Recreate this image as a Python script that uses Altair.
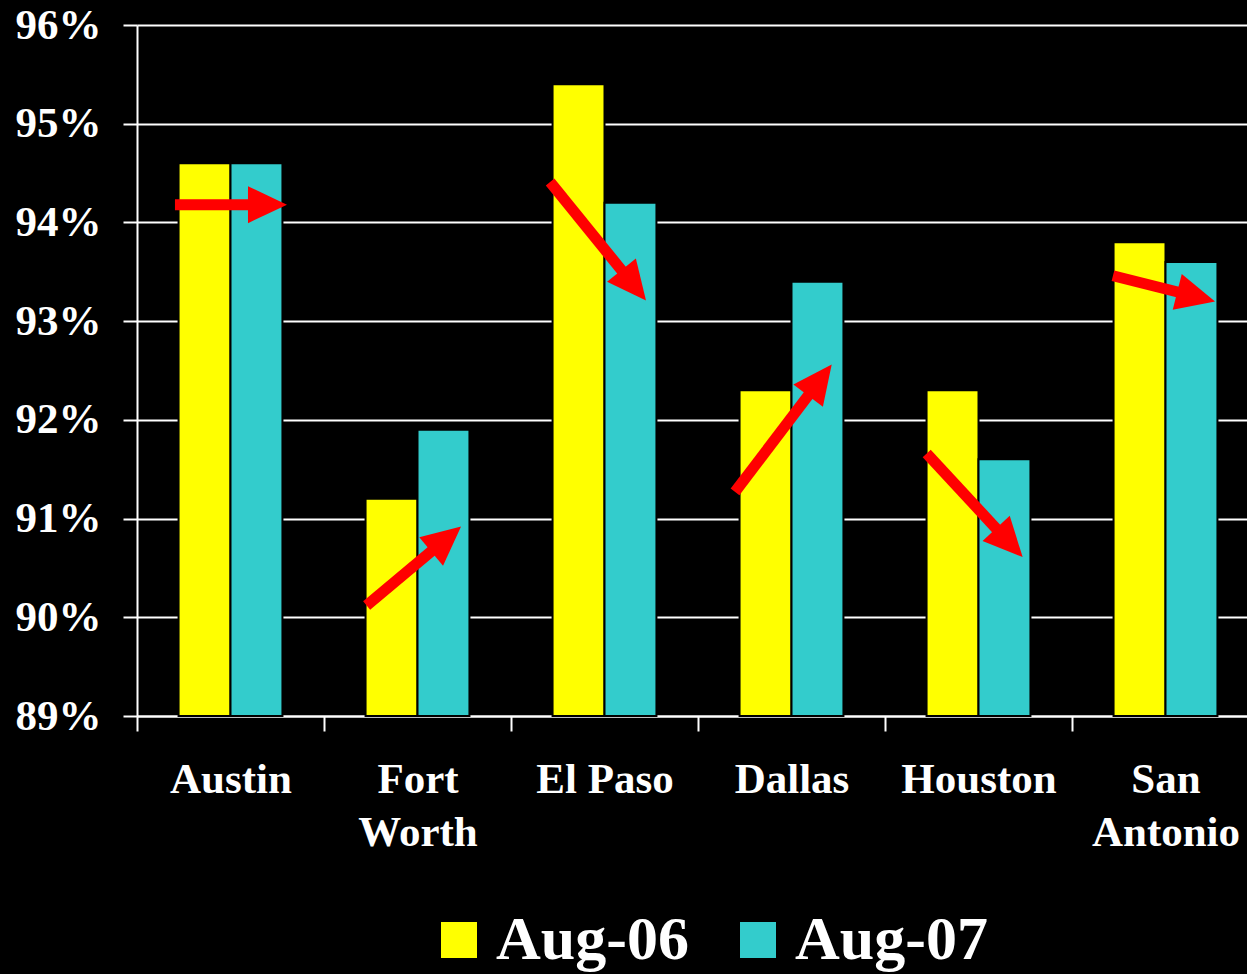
import json
import math

import altair as alt
import pandas as pd

# Occupancy by city, August 2006 vs August 2007 (%)
CITIES = ["Austin", "Fort Worth", "El Paso", "Dallas", "Houston", "San Antonio"]
CITY_LINES = [["Austin"], ["Fort", "Worth"], ["El Paso"], ["Dallas"], ["Houston"], ["San", "Antonio"]]
SERIES = ["Aug-06", "Aug-07"]
AUG_06 = [94.6, 91.2, 95.4, 92.3, 92.3, 93.8]
AUG_07 = [94.6, 91.9, 94.2, 93.4, 91.6, 93.6]
COLORS = ["#FFFF00", "#33CCCC"]

# Trend arrows: start and tip, as a fraction across each city's band and a level in %
ARROW_X0 = [0.203, 0.228, 0.209, 0.198, 0.223, 0.219]
ARROW_Y0 = [94.18, 90.12, 94.41, 91.27, 91.66, 93.46]
ARROW_X1 = [0.802, 0.733, 0.722, 0.715, 0.736, 0.765]
ARROW_Y1 = [94.18, 90.92, 93.21, 92.56, 90.61, 93.20]

Y_MIN, Y_MAX = 89, 96
W, H = 1110, 691
# the category bands run slightly past the right edge of the view
BAND_SPAN = 1122
STEP = BAND_SPAN / len(CITIES)
PX_PER_PCT = H / (Y_MAX - Y_MIN)
HEAD_LEN = 39
SHAFT_INSET = 20
FONT = "Liberation Serif"

bars_df = pd.DataFrame(
    [{"city": c, "series": SERIES[0], "value": v} for c, v in zip(CITIES, AUG_06)]
    + [{"city": c, "series": SERIES[1], "value": v} for c, v in zip(CITIES, AUG_07)]
)

shaft_rows, head_rows = [], []
for i, c in enumerate(CITIES):
    x0, y0, x1, y1 = ARROW_X0[i], ARROW_Y0[i], ARROW_X1[i], ARROW_Y1[i]
    dx = (x1 - x0) * STEP
    dy = -(y1 - y0) * PX_PER_PCT
    length = math.hypot(dx, dy)
    ux, uy = dx / length, dy / length
    # the shaft stops inside the arrowhead so its square end stays hidden
    xs = x1 - SHAFT_INSET * ux / STEP
    ys = y1 + SHAFT_INSET * uy / PX_PER_PCT
    shaft_rows.append({"city": c, "pos": i + x0, "val": y0, "k": 0})
    shaft_rows.append({"city": c, "pos": i + xs, "val": ys, "k": 1})
    head_rows.append({"city": c, "pos": i + x1, "val": y1,
                      "ang": math.degrees(math.atan2(dy, dx)) % 360})
shaft_df = pd.DataFrame(shaft_rows)
head_df = pd.DataFrame(head_rows)

# two-line labels for the longer city names
label_expr = "datum.label"
for name, lines in reversed(list(zip(CITIES, CITY_LINES))):
    if len(lines) > 1:
        label_expr = f"datum.label === '{name}' ? {json.dumps(lines)} : {label_expr}"

y_scale = alt.Scale(domain=[Y_MIN, Y_MAX], zero=False, nice=False)
y_axis = alt.Axis(
    title=None, values=list(range(Y_MIN, Y_MAX + 1)), labelExpr="datum.value + '%'",
    labelFontSize=43, labelPadding=22, tickSize=14, grid=True,
)
x_axis = alt.Axis(
    title=None, labelAngle=0, labelExpr=label_expr, tickBand="extent",
    labelFontSize=43, labelPadding=27, labelLineHeight=53, tickSize=15, grid=False,
)

bars = alt.Chart(bars_df).mark_bar(stroke="black", strokeWidth=2).encode(
    x=alt.X("city:N", sort=CITIES,
            scale=alt.Scale(paddingInner=0, paddingOuter=0, range=[0, BAND_SPAN]),
            axis=x_axis),
    xOffset=alt.XOffset("series:N", sort=SERIES,
                        scale=alt.Scale(paddingInner=0, paddingOuter=0.8)),
    y=alt.Y("value:Q", scale=y_scale, axis=y_axis),
    y2=alt.datum(Y_MIN),
    color=alt.Color(
        "series:N", sort=SERIES, scale=alt.Scale(domain=SERIES, range=COLORS),
        legend=alt.Legend(
            title=None, orient="none", legendX=291, legendY=884, direction="horizontal",
            symbolType="square", symbolSize=1296, symbolStrokeWidth=0,
            labelFont=FONT, labelFontSize=62, labelFontWeight="bold", labelColor="white",
            labelLimit=500, labelOffset=6, columnPadding=38, padding=0,
        ),
    ),
)

arrow_x = alt.Scale(domain=[0, len(CITIES)], range=[0, BAND_SPAN], nice=False, zero=False)

shafts = alt.Chart(shaft_df).mark_line(color="#FF0000", strokeWidth=11, strokeCap="butt").encode(
    x=alt.X("pos:Q", scale=arrow_x, axis=None),
    y=alt.Y("val:Q", scale=y_scale, axis=y_axis),
    detail="city:N",
    order="k:O",
)

heads = alt.Chart(head_df).mark_point(
    shape="M0,0L-2,-0.95L-2,0.95Z", filled=True, fill="#FF0000", opacity=1,
    strokeWidth=0, size=HEAD_LEN * HEAD_LEN,
).encode(
    x=alt.X("pos:Q", scale=arrow_x, axis=None),
    y=alt.Y("val:Q", scale=y_scale, axis=y_axis),
    angle=alt.Angle("ang:Q", scale=None),
)

chart = (
    alt.layer(bars, shafts, heads)
    .resolve_scale(x="independent")
    .properties(
        width=W, height=H, background="black",
        autosize=alt.AutoSizeParams(type="none"),
        padding={"left": 137, "top": 25, "right": 0, "bottom": 258},
    )
    .configure_view(stroke=None)
    .configure_axis(
        labelFont=FONT, labelFontWeight="bold", labelColor="white",
        tickColor="white", tickWidth=2, domainColor="white", domainWidth=2,
        gridColor="white", gridWidth=2,
    )
)

chart.save("out.html", embed_options={"renderer": "svg", "actions": False})
